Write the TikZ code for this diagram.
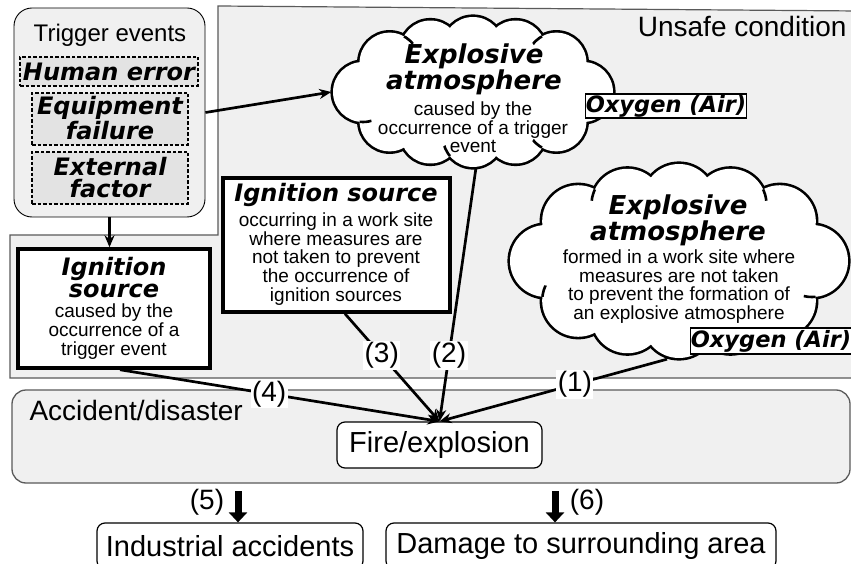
\documentclass[tikz,border=0pt]{standalone}
\usepackage{fontspec}
\setmainfont{Liberation Sans}
\newfontfamily\vb{DejaVu Sans Bold Oblique}
\usetikzlibrary{shapes.geometric,arrows.meta,calc}
\definecolor{panel}{HTML}{F0F0F0}
\definecolor{dbox}{HTML}{E3E3E3}
\definecolor{edgegray}{HTML}{5A5A5A}
\def\puffangles{0,40.7,67.2,90,112.8,139.3,180,220.7,247.2,270,292.8,319.3}
% cloud drawn as union of circles: #1 cx, #2 cy, #3 a, #4 b, #5 puff radius
\newcommand\mycloud[5]{%
  \foreach \t in \puffangles
    {\draw[line width=5.2pt] ({#1+(#3-#5)*cos(\t)},{#2+(#4-#5)*sin(\t)}) circle[radius=#5];}
  \foreach \t in \puffangles
    {\fill[white] ({#1+(#3-#5)*cos(\t)},{#2+(#4-#5)*sin(\t)}) circle[radius=#5];}
  \fill[white] (#1,#2) ellipse[x radius={#3-#5}, y radius={#4-#5}];
}
% inner arc of puff #6 continuing into neighbour puff #7 (#8 = 90 or -90)
\newcommand\innerarc[8]{%
  \pgfmathsetmacro\puffix{#1+(#3-#5)*cos(#6)}\pgfmathsetmacro\puffiy{#2+(#4-#5)*sin(#6)}%
  \pgfmathsetmacro\puffjx{#1+(#3-#5)*cos(#7)}\pgfmathsetmacro\puffjy{#2+(#4-#5)*sin(#7)}%
  \pgfmathsetmacro\puffdd{veclen(\puffjx-\puffix,\puffjy-\puffiy)}%
  \pgfmathsetmacro\puffhh{sqrt(#5*#5-\puffdd*\puffdd/4)}%
  \begin{scope}
    \clip (\puffjx,\puffjy) circle[radius=#5];
    \clip ($(\puffix,\puffiy)!0.5!(\puffjx,\puffjy)!\puffhh pt!#8:(\puffjx,\puffjy)$) circle[radius=12];
    \draw[line width=2.6pt] (\puffix,\puffiy) circle[radius=#5];
  \end{scope}}
\begin{document}
\begin{tikzpicture}[x=1pt,y=-1pt,
  big/.style={font=\fontsize{28}{28}\selectfont},
  hdr/.style={font=\vb\fontsize{24}{21.5}\selectfont, align=center},
  chdr/.style={font=\vb\fontsize{26}{25}\selectfont, align=center},
  body/.style={font=\fontsize{19}{18.6}\selectfont, align=center},
  dbx/.style={draw, dash pattern=on 3.5pt off 2pt, fill=dbox, line width=1.2pt, inner sep=0pt},
  dtxt/.style={font=\vb\fontsize{24}{22}\selectfont, align=center},
  ibox/.style={draw, fill=white, line width=3.5pt, inner sep=0pt},
  cloudanchor/.style={ellipse, inner sep=0pt},
  oxy/.style={draw, fill=white, line width=1.2pt, inner sep=0pt, font=\vb\fontsize{22.5}{22.5}\selectfont},
  conn/.style={line width=2.7pt, -{Stealth[length=12pt,width=10pt]}},
  lbl/.style={fill=white, inner sep=1.5pt, font=\fontsize{28}{28}\selectfont},
  rbox/.style={draw, fill=white, rounded corners=8pt, line width=1.2pt, inner sep=0pt, font=\fontsize{29}{29}\selectfont},
  blockarrow/.style={line width=7pt, -{Triangle[width=18pt,length=10pt]}}
]
\clip (0,0) rectangle (851,564);
\fill[white] (0,0) rectangle (851,564);

% unsafe condition panel
\draw[fill=panel, draw=edgegray, line width=1.2pt] (218,6) -- (858,11) -- (858,378) -- (10,378) -- (10,235) -- (218,235) -- cycle;
\node[big, anchor=base east] (unsafe) at (850,37) {Unsafe condition};

% accident panel
\draw[fill=panel, draw=edgegray, line width=1.3pt, rounded corners=14pt] (12,390) rectangle (850,483);
\node[big, anchor=base west] (accident) at (26,420) {Accident/disaster};

% trigger events
\node[draw, fill=panel, rounded corners=18pt, minimum width=191pt, minimum height=209pt, line width=0.9pt] (trig) at (109.5,112.5) {};
\node[font=\fontsize{24}{24}\selectfont, anchor=base] (trigt) at (110,42) {Trigger events};
\node[dbx, minimum width=178pt, minimum height=29pt] (human) at (109,71.5) {};
\node[font=\vb\fontsize{24}{24}\selectfont, anchor=base] (humant) at (109,80.5) {Human error};
\node[dbx, minimum width=156pt, minimum height=52pt] (equip) at (110,119) {};
\node[dtxt] (equipt) at (110,118) {Equipment\\failure};
\node[dbx, minimum width=156pt, minimum height=52pt] (ext) at (110,178) {};
\node[dtxt] (extt) at (110,178) {External\\factor};

% ignition source 1
\node[ibox, minimum width=192pt, minimum height=119pt] (ign1) at (114,308.5) {};
\node[hdr] (ign1h) at (114,277.5) {Ignition\\source};
\node[body] (ign1b) at (114,331.5) {caused by the\\occurrence of a\\trigger event};

% ignition source 2
\node[ibox, minimum width=227pt, minimum height=134pt] (ign2) at (336.5,245) {};
\node[hdr, anchor=base] (ign2h) at (336,202) {Ignition source};
\node[body] (ign2b) at (336,259) {occurring in a work site\\where measures are\\not taken to prevent\\the occurrence of\\ignition sources};

% cloud 1
\mycloud{473}{92}{140}{75}{30}
\innerarc{473}{92}{140}{75}{30}{180}{139.3}{-90}
\innerarc{473}{92}{140}{75}{30}{220.7}{247.2}{90}
\innerarc{473}{92}{140}{75}{30}{319.3}{292.8}{-90}
\innerarc{473}{92}{140}{75}{30}{40.7}{67.2}{90}
\innerarc{473}{92}{140}{75}{30}{90}{112.8}{90}
\node[cloudanchor, minimum width=283pt, minimum height=153pt] (cloudA) at (473,92) {};
\node[chdr] (cloudAh) at (474,69.5) {Explosive\\atmosphere};
\node[body] (cloudAb) at (473,127.5) {caused by the\\occurrence of a trigger\\event};
\node[oxy, minimum width=160pt, minimum height=24pt] (oxyA) at (666,106) {Oxygen (Air)};

% cloud 2
\mycloud{679}{261}{169}{97}{36}
\innerarc{679}{261}{169}{97}{36}{139.3}{180}{90}
\innerarc{679}{261}{169}{97}{36}{247.2}{220.7}{-90}
\innerarc{679}{261}{169}{97}{36}{292.8}{319.3}{90}
\innerarc{679}{261}{169}{97}{36}{0}{40.7}{90}
\innerarc{679}{261}{169}{97}{36}{67.2}{90}{90}
\node[cloudanchor, minimum width=342pt, minimum height=198pt] (cloudB) at (679,261) {};
\node[chdr] (cloudBh) at (678,220) {Explosive\\atmosphere};
\node[body] (cloudBb) at (679,286.5) {formed in a work site where\\measures are not taken\\to prevent the formation of\\an explosive atmosphere};
\node[oxy, minimum width=161pt, minimum height=26pt] (oxyB) at (771,341) {Oxygen (Air)};

% fire / explosion
\node[rbox, minimum width=205pt, minimum height=46pt] (fire) at (439.5,445) {Fire/explosion};

% connectors from trigger events
\draw[conn] (trig.east) -- (cloudA.west);
\draw[conn] (trig.south) -- (trig.south |- ign1.north);

% converging connectors
\draw[conn] ($(cloudB.south)+(-12,-1)$) -- node[lbl, pos=0.405] (l1) {(1)} (fire.north);
\draw[conn] ($(cloudA.south)+(3,-1)$) -- node[lbl, pos=0.739] (l2) {(2)} (fire.north);
\draw[conn] ($(ign2.south)+(8.5,0)$) -- node[lbl, pos=0.389] (l3) {(3)} (fire.north);
\draw[conn] ($(ign1.south)+(6,0)$) -- node[lbl, pos=0.467] (l4) {(4)} (fire.north);

% outcomes
\node[rbox, minimum width=266pt, minimum height=46pt] (indus) at (230,546) {Industrial accidents};
\node[rbox, minimum width=390pt, minimum height=46pt] (damage) at (581,546) {Damage to surrounding area};
\coordinate (a5s) at (238,491);
\coordinate (a6s) at (555,491);
\draw[blockarrow] (a5s) -- (a5s |- indus.north) ;
\draw[blockarrow] (a6s) -- (a6s |- damage.north);
\node[big] (n5) at (207,502) {(5)};
\node[big] (n6) at (587,502) {(6)};
\end{tikzpicture}
\end{document}
